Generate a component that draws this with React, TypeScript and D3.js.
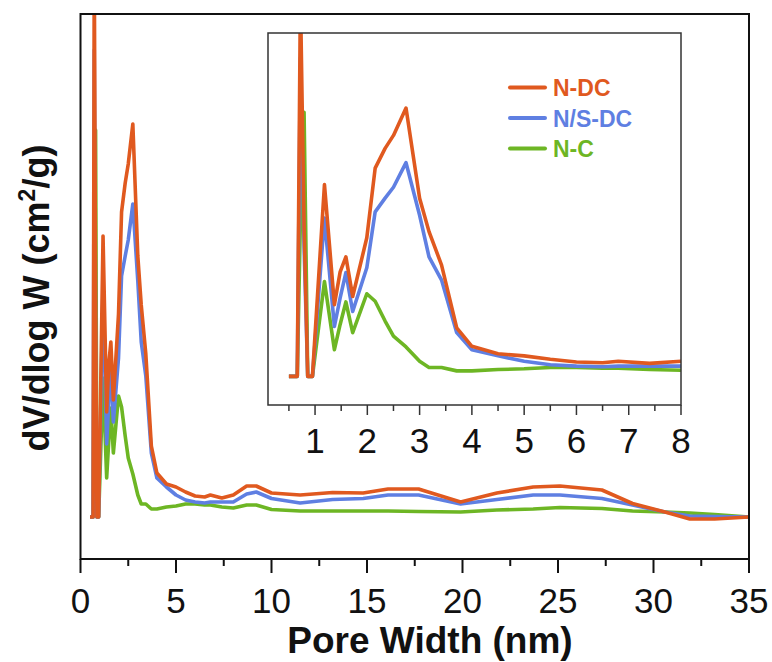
import React from "react";
import * as d3 from "d3";

// Pore width (nm), shared by all three series
const poreWidth = [
  0.5, 0.66, 0.72, 0.79, 0.86, 0.95, 1.18, 1.37, 1.48, 1.59, 1.72, 1.99, 2.15, 2.34, 2.5,
  2.74, 3.0, 3.18, 3.42, 3.71, 4.0, 4.5, 5.0, 5.5, 6.0, 6.5, 6.8, 7.4, 8.0, 8.7, 9.2, 10.0,
  11.5, 13.2, 14.8, 16.1, 17.7, 19.9, 21.8, 23.7, 25.1, 27.3, 28.9, 30.6, 31.9, 33.2, 35,
];

// dV/dlog W (arbitrary units)
const nDC = [
  0, 0, 560, 220, 0, 0, 281, 105, 153, 175, 117, 203, 305, 334, 353,
  393, 261, 212, 163, 71, 44, 33, 30, 25, 21, 20, 22, 19, 22, 31, 31, 24,
  22, 24.5, 24, 28, 28, 15, 24, 30, 31, 27, 13.5, 5, -2, -2, 0,
];
const nsDC = [
  0, 0, 467, 190, 0, 0, 232, 73, 115, 152, 95, 159, 241, 261, 277,
  313, 236, 175, 141, 64, 39, 30, 22, 17, 15, 14, 15, 15, 15, 23, 25, 18.5,
  14, 17.5, 18.5, 22, 22, 13, 17.5, 22, 22, 18.5, 12, 5, 1, 0.5, 0,
];
const nC = [
  0, 0, 230, 387, 0, 0, 139, 39, 76, 109, 64, 121, 110, 81, 59,
  43, 22, 13, 13, 8, 8, 10, 11, 13, 13, 12, 12, 10, 9, 12, 12, 7.5,
  6, 6, 6, 6, 5.5, 5, 7, 8, 9.5, 8.5, 6, 5, 4, 2.5, 0,
];

const seriesNames = ["N-DC", "N/S-DC", "N-C"];
const seriesColors = ["#E0591F", "#5F7FE2", "#6DB624"];
const seriesValues = [nDC, nsDC, nC];

const mainTicks = [0, 5, 10, 15, 20, 25, 30, 35];
const mainMinorTicks = [2.5, 7.5, 12.5, 17.5, 22.5, 27.5, 32.5];
const insetTicks = [1, 2, 3, 4, 5, 6, 7, 8];
const insetMinorTicks = [0.5, 1.5, 2.5, 3.5, 4.5, 5.5, 6.5, 7.5];

const yDomain = [-42, 503];

const FONT = "'Liberation Sans', Arial, Helvetica, sans-serif";

export default function App() {
  const W = 772;
  const H = 662;

  // main plot
  const mL = 80.5, mR = 749, mT = 14, mB = 559;
  const x = d3.scaleLinear().domain([0, 35]).range([mL, mR]);
  const y = d3.scaleLinear().domain(yDomain).range([mB, mT]);

  // inset
  const iL = 268, iR = 681, iT = 33, iB = 405;
  const xi = d3.scaleLinear().domain([0.1, 8]).range([iL, iR]);
  const yi = d3.scaleLinear().domain(yDomain).range([iB, iT]);

  const mainLine = (vals: number[]) =>
    d3
      .line<number>()
      .x((_, i) => x(poreWidth[i]))
      .y((v) => y(v))(vals) || "";

  const insetPts = poreWidth
    .map((p, i) => i)
    .filter((i) => poreWidth[i] <= 8.0001);
  const insetLine = (vals: number[]) =>
    d3
      .line<number>()
      .x((i) => xi(poreWidth[i]))
      .y((i) => yi(vals[i]))(insetPts) || "";

  const drawOrder = [2, 1, 0];

  return (
    <svg
      width={W}
      height={H}
      style={{ position: "absolute", left: 0, top: 0, background: "#fff" }}
      fontFamily={FONT}
    >
      <defs>
        <clipPath id="mainClip">
          <rect x={mL} y={mT} width={mR - mL} height={mB - mT} />
        </clipPath>
        <clipPath id="insetClip">
          <rect x={iL} y={iT} width={iR - iL} height={iB - iT} />
        </clipPath>
      </defs>
      <rect x={0} y={0} width={W} height={H} fill="#fff" />

      {/* main curves */}
      <g clipPath="url(#mainClip)">
        {drawOrder.map((k) => (
          <path
            key={k}
            d={mainLine(seriesValues[k])}
            fill="none"
            stroke={seriesColors[k]}
            strokeWidth={3.6}
            strokeLinejoin="round"
          />
        ))}
      </g>

      {/* main frame */}
      <rect x={mL} y={mT} width={mR - mL} height={mB - mT} fill="none" stroke="#111" strokeWidth={2} />
      {mainTicks.map((t) => (
        <g key={"mt" + t}>
          <line x1={x(t)} x2={x(t)} y1={mB} y2={mB + 14} stroke="#111" strokeWidth={2} />
          <text x={x(t)} y={613} textAnchor="middle" fontSize={35} fill="#111">
            {t}
          </text>
        </g>
      ))}
      {mainMinorTicks.map((t) => (
        <line key={"mm" + t} x1={x(t)} x2={x(t)} y1={mB} y2={mB + 7} stroke="#111" strokeWidth={2} />
      ))}
      <text x={430} y={653} textAnchor="middle" fontSize={37} fontWeight="bold" fill="#111">
        Pore Width (nm)
      </text>
      <text
        transform="translate(49,298) rotate(-90)"
        textAnchor="middle"
        fontSize={36}
        fontWeight="bold"
        fill="#111"
      >
        dV/dlog W (cm
        <tspan fontSize={23} dy={-14}>2</tspan>
        <tspan dy={14}>/g)</tspan>
      </text>

      {/* inset */}
      <rect x={iL} y={iT} width={iR - iL} height={iB - iT} fill="#fff" />
      <g clipPath="url(#insetClip)">
        {drawOrder.map((k) => (
          <path
            key={"i" + k}
            d={insetLine(seriesValues[k])}
            fill="none"
            stroke={seriesColors[k]}
            strokeWidth={3.6}
            strokeLinejoin="round"
          />
        ))}
      </g>
      <rect x={iL} y={iT} width={iR - iL} height={iB - iT} fill="none" stroke="#333" strokeWidth={1.5} />
      {insetTicks.map((t) => (
        <g key={"it" + t}>
          <line x1={xi(t)} x2={xi(t)} y1={iB} y2={iB + 10} stroke="#333" strokeWidth={1.5} />
          <text x={xi(t)} y={453} textAnchor="middle" fontSize={35} fill="#111">
            {t}
          </text>
        </g>
      ))}
      {insetMinorTicks.map((t) => (
        <line key={"im" + t} x1={xi(t)} x2={xi(t)} y1={iB} y2={iB + 6} stroke="#333" strokeWidth={1.5} />
      ))}

      {/* legend */}
      {seriesNames.map((name, k) => (
        <g key={"lg" + k}>
          <line
            x1={510}
            x2={545}
            y1={87.5 + k * 30.5}
            y2={87.5 + k * 30.5}
            stroke={seriesColors[k]}
            strokeWidth={4}
            strokeLinecap="round"
          />
          <text x={553} y={87.5 + k * 30.5 + 8.5} fontSize={23} fontWeight="bold" fill={seriesColors[k]}>
            {name}
          </text>
        </g>
      ))}
    </svg>
  );
}
